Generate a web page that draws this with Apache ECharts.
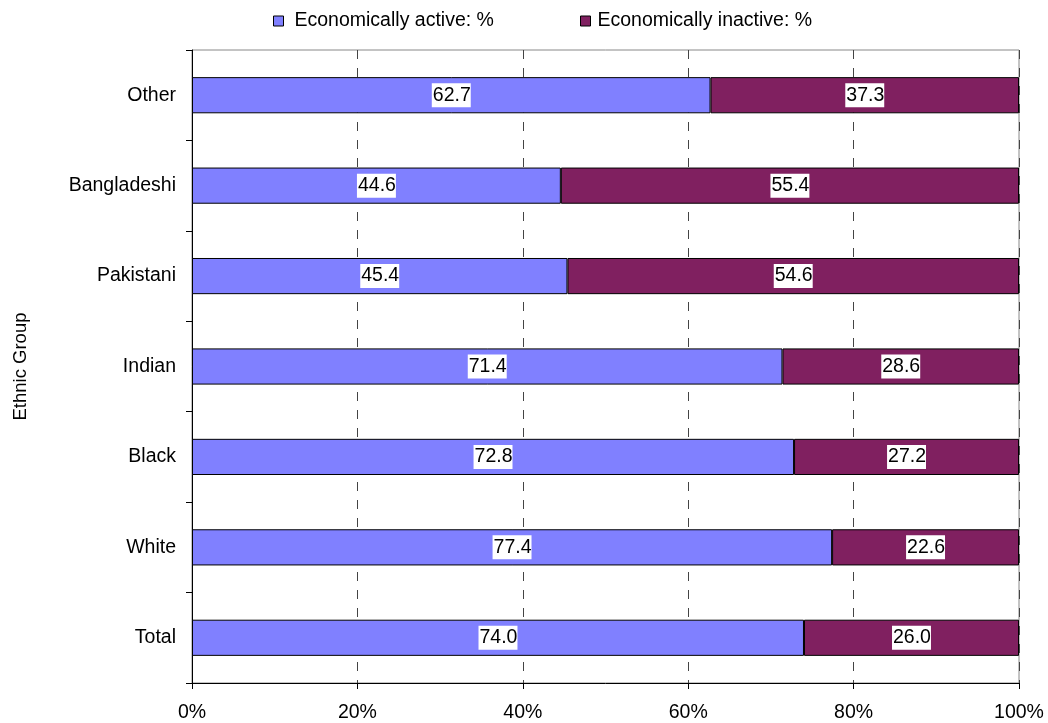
<!DOCTYPE html>
<html><head><meta charset="utf-8">
<script src="https://cdn.jsdelivr.net/npm/echarts@6/dist/echarts.min.js"></script>
<style>html,body{margin:0;padding:0;background:#fff}#c{width:1048px;height:723px}</style>
</head><body><div id="c"></div>
<script>
var categories = ['Total', 'White', 'Black', 'Indian', 'Pakistani', 'Bangladeshi', 'Other'];
var activeValues = [74.0, 77.4, 72.8, 71.4, 45.4, 44.6, 62.7];
var inactiveValues = [26.0, 22.6, 27.2, 28.6, 54.6, 55.4, 37.3];
var xTicks = [0, 20, 40, 60, 80, 100];
var seriesNames = ['Economically active: %', 'Economically inactive: %'];

var font = 'Arial, "Liberation Sans", sans-serif';
var fs = 19.5;
var labelCfg = {
  show: true, position: 'inside', color: '#000', fontSize: fs, fontFamily: font,
  backgroundColor: '#fff', padding: [2, 0, 2, 1],
  formatter: function (p) { return p.value.toFixed(1); }
};
var chart = echarts.init(document.getElementById('c'), null, {renderer: 'canvas'});
chart.setOption({
  animation: false,
  textStyle: {fontFamily: font},
  legend: [
    {left: 268, top: 6, itemWidth: 10, itemHeight: 10, itemGap: 0,
     textStyle: {fontSize: fs, color: '#000', fontFamily: font, padding: [0, 0, 0, 6]},
     data: [{name: seriesNames[0], icon: 'rect', itemStyle: {borderColor: '#000', borderWidth: 1}}]},
    {left: 575, top: 6, itemWidth: 10, itemHeight: 10, itemGap: 0,
     textStyle: {fontSize: fs, color: '#000', fontFamily: font, padding: [0, 0, 0, 2]},
     data: [{name: seriesNames[1], icon: 'rect', itemStyle: {borderColor: '#000', borderWidth: 1}}]}
  ],
  grid: {left: 192, right: 29, top: 50, bottom: 40, show: true, borderColor: '#888', borderWidth: 1,
         containLabel: false, outerBoundsMode: 'none'},
  xAxis: {
    type: 'value', min: xTicks[0], max: xTicks[xTicks.length - 1], interval: 20,
    axisLine: {show: true, lineStyle: {color: '#000', width: 1}},
    axisTick: {show: true, length: 6, lineStyle: {color: '#000'}},
    axisLabel: {formatter: '{value}%', fontSize: fs, color: '#000', margin: 20, fontFamily: font},
    splitLine: {show: true, lineStyle: {color: '#444', type: [9, 9], width: 1}}
  },
  yAxis: {
    type: 'category', data: categories,
    name: 'Ethnic Group', nameLocation: 'middle', nameGap: 162, nameRotate: 90,
    nameTextStyle: {fontSize: 18.5, color: '#000', fontFamily: font},
    axisLine: {show: true, lineStyle: {color: '#000', width: 1}},
    axisTick: {show: true, length: 6, inside: false, lineStyle: {color: '#000'}},
    axisLabel: {fontSize: fs, color: '#000', margin: 16, fontFamily: font},
    splitLine: {show: false}
  },
  series: [
    {name: seriesNames[0], type: 'bar', stack: 'a', data: activeValues, barWidth: '40%',
     itemStyle: {color: '#8080FF', borderColor: '#000', borderWidth: 1}, label: labelCfg},
    {name: seriesNames[1], type: 'bar', stack: 'a', data: inactiveValues, barWidth: '40%',
     itemStyle: {color: '#802060', borderColor: '#000', borderWidth: 1}, label: labelCfg}
  ]
});
</script></body></html>
